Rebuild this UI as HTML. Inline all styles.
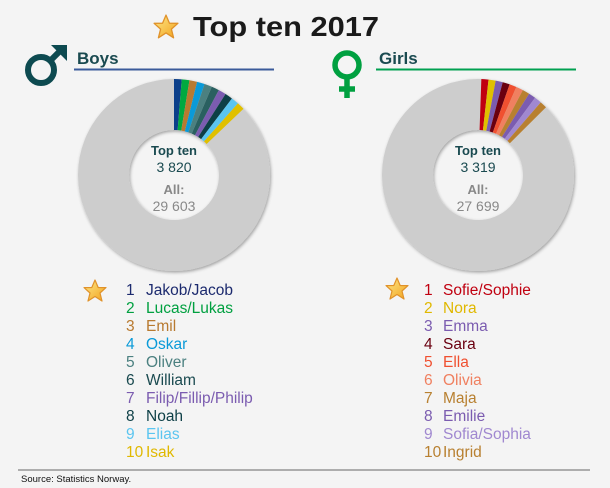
<!DOCTYPE html>
<html><head><meta charset="utf-8"><style>
body{margin:0;background:#f4f4f4;}
svg{display:block;font-family:"Liberation Sans","DejaVu Sans",sans-serif;}
</style></head><body>
<svg width="610" height="488" viewBox="0 0 610 488" xmlns="http://www.w3.org/2000/svg">
<defs>
<linearGradient id="sg" x1="0" y1="0" x2="1" y2="1"><stop offset="0" stop-color="#fde98a"/><stop offset="1" stop-color="#f2a21c"/></linearGradient>
<filter id="sh" filterUnits="userSpaceOnUse" x="-150" y="-150" width="300" height="300"><feDropShadow dx="1" dy="1.5" stdDeviation="1.5" flood-color="#000" flood-opacity="0.35"/></filter>
<symbol id="star" viewBox="-12 -12 24 24"><polygon points="0,-11 3.2,-3.5 11,-3.4 5,2 7,10 0,5.5 -7,10 -5,2 -11,-3.4 -3.2,-3.5" fill="url(#sg)" stroke="#e0922a" stroke-width="1.2" stroke-linejoin="round"/></symbol>
</defs>
<rect width="610" height="488" fill="#f4f4f4"/>
<use href="#star" x="153" y="14" width="26" height="26"/>
<text x="193" y="36" font-size="28" font-weight="bold" fill="#1a1a1a" textLength="186" lengthAdjust="spacingAndGlyphs">Top ten 2017</text>

<!-- Boys header -->
<g stroke="#0d4a50" stroke-width="6" fill="none">
<circle cx="41" cy="70" r="13"/>
<line x1="51" y1="60" x2="62" y2="49"/>
</g>
<polygon points="51,45 67,45 67,61" fill="#0d4a50"/>
<text x="77" y="64" font-size="17" font-weight="bold" fill="#1a4a50">Boys</text>
<line x1="74" y1="69.5" x2="274" y2="69.5" stroke="#3a5a9a" stroke-width="2"/>

<!-- Girls header -->
<g stroke="#00a040" stroke-width="5.5" fill="none">
<circle cx="347" cy="65" r="12"/>
<line x1="347" y1="77" x2="347" y2="98"/>
<line x1="339" y1="89" x2="355" y2="89"/>
</g>
<text x="379" y="64" font-size="17" font-weight="bold" fill="#1a4a50">Girls</text>
<line x1="376" y1="69.5" x2="576" y2="69.5" stroke="#00a050" stroke-width="2"/>

<!-- Boys donut -->
<g transform="translate(174,175)">
<circle r="70.5" fill="none" stroke="#cdcdcd" stroke-width="51" filter="url(#sh)"/>
<g fill="none" stroke-width="51">
<circle r="70.5" stroke="#0b3f8a" stroke-dasharray="5.7 500" transform="rotate(-90)"/>
<circle r="70.5" stroke="#00a940" stroke-dasharray="5.7 500" transform="rotate(-85.36)"/>
<circle r="70.5" stroke="#b87a30" stroke-dasharray="5.7 500" transform="rotate(-80.72)"/>
<circle r="70.5" stroke="#0a9ad8" stroke-dasharray="5.7 500" transform="rotate(-76.08)"/>
<circle r="70.5" stroke="#4b8080" stroke-dasharray="5.7 500" transform="rotate(-71.44)"/>
<circle r="70.5" stroke="#2a6060" stroke-dasharray="5.7 500" transform="rotate(-66.8)"/>
<circle r="70.5" stroke="#7b5cb0" stroke-dasharray="5.7 500" transform="rotate(-62.16)"/>
<circle r="70.5" stroke="#0d3f46" stroke-dasharray="5.7 500" transform="rotate(-57.52)"/>
<circle r="70.5" stroke="#5bc5f0" stroke-dasharray="5.7 500" transform="rotate(-52.88)"/>
<circle r="70.5" stroke="#e0c000" stroke-dasharray="5.7 500" transform="rotate(-48.24)"/>
</g>
<text x="0" y="-20" text-anchor="middle" font-size="13" font-weight="bold" fill="#1a4a50">Top ten</text>
<text x="0" y="-3" text-anchor="middle" font-size="14" fill="#1a4a50">3 820</text>
<text x="0" y="19" text-anchor="middle" font-size="13" font-weight="bold" fill="#888">All:</text>
<text x="0" y="36" text-anchor="middle" font-size="14" fill="#888">29 603</text>
</g>

<!-- Girls donut -->
<g transform="translate(478,175)">
<circle r="70.5" fill="none" stroke="#cdcdcd" stroke-width="51" filter="url(#sh)"/>
<g fill="none" stroke-width="51">
<circle r="70.5" stroke="#c00010" stroke-dasharray="5.3 500" transform="rotate(-88)"/>
<circle r="70.5" stroke="#e0c000" stroke-dasharray="5.3 500" transform="rotate(-83.69)"/>
<circle r="70.5" stroke="#7b5cb0" stroke-dasharray="5.3 500" transform="rotate(-79.38)"/>
<circle r="70.5" stroke="#6a0010" stroke-dasharray="5.3 500" transform="rotate(-75.07)"/>
<circle r="70.5" stroke="#f05030" stroke-dasharray="5.3 500" transform="rotate(-70.76)"/>
<circle r="70.5" stroke="#f08060" stroke-dasharray="5.3 500" transform="rotate(-66.45)"/>
<circle r="70.5" stroke="#b88030" stroke-dasharray="5.3 500" transform="rotate(-62.14)"/>
<circle r="70.5" stroke="#7b5cb0" stroke-dasharray="5.3 500" transform="rotate(-57.83)"/>
<circle r="70.5" stroke="#a088d0" stroke-dasharray="5.3 500" transform="rotate(-53.52)"/>
<circle r="70.5" stroke="#b88030" stroke-dasharray="5.3 500" transform="rotate(-49.21)"/>
</g>
<text x="0" y="-20" text-anchor="middle" font-size="13" font-weight="bold" fill="#1a4a50">Top ten</text>
<text x="0" y="-3" text-anchor="middle" font-size="14" fill="#1a4a50">3 319</text>
<text x="0" y="19" text-anchor="middle" font-size="13" font-weight="bold" fill="#888">All:</text>
<text x="0" y="36" text-anchor="middle" font-size="14" fill="#888">27 699</text>
</g>

<!-- Lists -->
<use href="#star" x="83" y="279" width="24" height="24"/>
<use href="#star" x="385" y="277" width="24" height="24"/>
<g font-size="15.5">
<text x="126" y="295" fill="#1c2a6e">1</text><text x="146" y="295" fill="#1c2a6e">Jakob/Jacob</text>
<text x="126" y="313" fill="#00a040">2</text><text x="146" y="313" fill="#00a040">Lucas/Lukas</text>
<text x="126" y="331" fill="#b87a30">3</text><text x="146" y="331" fill="#b87a30">Emil</text>
<text x="126" y="349" fill="#0a9ad8">4</text><text x="146" y="349" fill="#0a9ad8">Oskar</text>
<text x="126" y="367" fill="#4b8080">5</text><text x="146" y="367" fill="#4b8080">Oliver</text>
<text x="126" y="385" fill="#1a4a50">6</text><text x="146" y="385" fill="#1a4a50">William</text>
<text x="126" y="403" fill="#7b5cb0">7</text><text x="146" y="403" fill="#7b5cb0">Filip/Fillip/Philip</text>
<text x="126" y="421" fill="#0d3f46">8</text><text x="146" y="421" fill="#0d3f46">Noah</text>
<text x="126" y="439" fill="#5bc5f0">9</text><text x="146" y="439" fill="#5bc5f0">Elias</text>
<text x="126" y="457" fill="#e0b800">10</text><text x="146" y="457" fill="#e0b800">Isak</text>

<text x="424" y="295" fill="#c00010">1</text><text x="443" y="295" fill="#c00010">Sofie/Sophie</text>
<text x="424" y="313" fill="#e0b800">2</text><text x="443" y="313" fill="#e0b800">Nora</text>
<text x="424" y="331" fill="#7b5cb0">3</text><text x="443" y="331" fill="#7b5cb0">Emma</text>
<text x="424" y="349" fill="#6a0010">4</text><text x="443" y="349" fill="#6a0010">Sara</text>
<text x="424" y="367" fill="#f05030">5</text><text x="443" y="367" fill="#f05030">Ella</text>
<text x="424" y="385" fill="#f08060">6</text><text x="443" y="385" fill="#f08060">Olivia</text>
<text x="424" y="403" fill="#b88030">7</text><text x="443" y="403" fill="#b88030">Maja</text>
<text x="424" y="421" fill="#7b5cb0">8</text><text x="443" y="421" fill="#7b5cb0">Emilie</text>
<text x="424" y="439" fill="#a088d0">9</text><text x="443" y="439" fill="#a088d0">Sofia/Sophia</text>
<text x="424" y="457" fill="#b88030">10</text><text x="443" y="457" fill="#b88030">Ingrid</text>
</g>

<line x1="18" y1="470" x2="590" y2="470" stroke="#666" stroke-width="1"/>
<text x="21" y="482" font-size="9.5" fill="#111">Source: Statistics Norway.</text>
</svg>
</body></html>
